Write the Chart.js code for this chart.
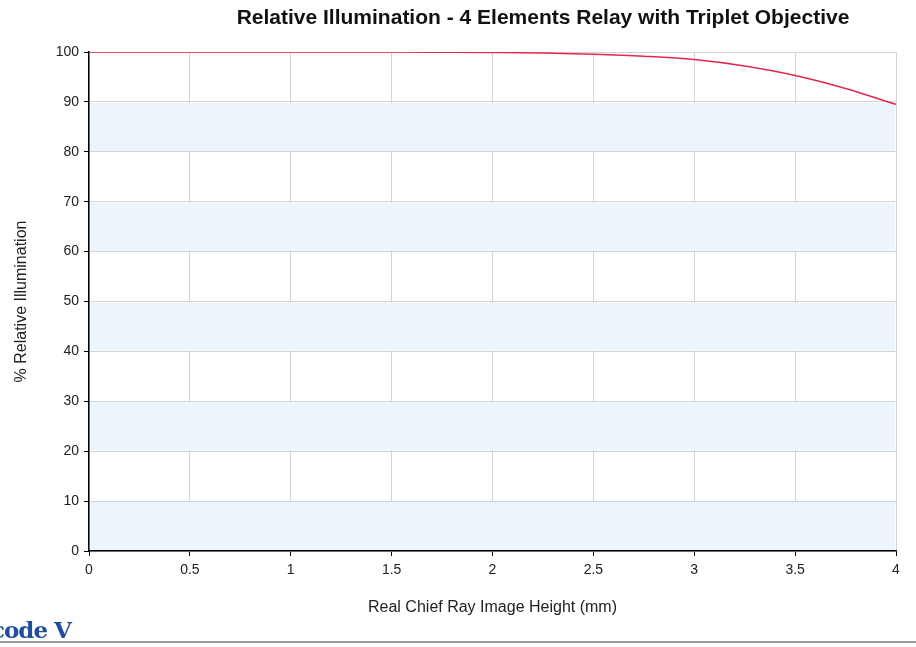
<!DOCTYPE html>
<html>
<head>
<meta charset="utf-8">
<script src="https://cdn.jsdelivr.net/npm/chart.js@4/dist/chart.umd.min.js"></script>
<style>
  body { margin: 0; background: #fff; }
  #wrap { position: relative; width: 916px; height: 647px; overflow: hidden; }
  #titulo { position: absolute; top: 5px; left: 0; width: 1086px; text-align: center;
            font: bold 21px Arial, "Liberation Sans", sans-serif; color: #111; }
  #logo { position: absolute; left: -9px; top: 616px; font: bold 23px "DejaVu Serif", serif;
          color: #1f4f9c; letter-spacing: -1px; }
  #linha { position: absolute; left: 0; top: 641px; width: 916px; height: 2px; background: #999; }
  canvas { position: absolute; left: 0; top: 0; }
</style>
</head>
<body>
<div id="wrap">
  <canvas id="grafico" width="916" height="647"></canvas>
  <div id="titulo">Relative Illumination - 4 Elements Relay with Triplet Objective</div>
  <div id="logo">code V</div>
  <div id="linha"></div>
</div>
<script>
// dados
const alturas = [0, 0.25, 0.5, 0.75, 1, 1.25, 1.5, 1.75, 2, 2.25, 2.5, 2.75, 3, 3.25, 3.5, 3.75, 4];
const iluminacao = [100, 100, 100, 100, 100, 99.99, 99.98, 99.95, 99.9, 99.8, 99.55, 99.15, 98.5, 97.2, 95.3, 92.7, 89.5];
const faixas = [[0, 10], [20, 30], [40, 50], [60, 70], [80, 90]];

// faixas azuis alternadas no fundo
const pluginFaixas = {
    id: 'faixas',
    beforeDatasetsDraw(chart) {
        const { ctx, chartArea, scales } = chart;
        ctx.save();
        ctx.fillStyle = '#edf5fc';
        faixas.forEach(f => {
            const y1 = scales.y.getPixelForValue(f[1]);
            const y0 = scales.y.getPixelForValue(f[0]);
            ctx.fillRect(chartArea.left + 1, y1 + 1, chartArea.right - chartArea.left - 2, y0 - y1 - 2);
        });
        ctx.restore();
    }
};

const pontos = alturas.map((x, i) => ({ x: x, y: iluminacao[i] }));

const ctx = document.getElementById('grafico').getContext('2d');
new Chart(ctx, {
    type: 'line',
    data: {
        datasets: [{
            data: pontos,
            borderColor: '#e3284c',
            borderWidth: 1.5,
            pointRadius: 0,
            tension: 0.4,
            cubicInterpolationMode: 'monotone'
        }]
    },
    options: {
        responsive: false,
        animation: false,
        layout: { padding: { top: 52, right: 20, bottom: 30, left: 0 } },
        plugins: { legend: { display: false }, tooltip: { enabled: false } },
        scales: {
            x: {
                type: 'linear',
                min: 0, max: 4,
                ticks: { stepSize: 0.5, color: '#222', font: { family: 'Arial', size: 14 }, padding: 6,
                         callback: v => String(v) },
                grid: { color: '#d4d4d4', tickColor: '#000', tickLength: 5 },
                border: { color: '#000', width: 1.5 },
                title: { display: true, text: 'Real Chief Ray Image Height (mm)', color: '#222',
                         font: { family: 'Arial', size: 16 }, padding: { top: 5, bottom: 0 } },
                afterFit: s => { s.height = 66; }
            },
            y: {
                min: 0, max: 100,
                ticks: { stepSize: 10, color: '#222', font: { family: 'Arial', size: 14 }, padding: 5 },
                grid: { color: '#d4d4d4', tickColor: '#000', tickLength: 5 },
                border: { color: '#000', width: 1.5 },
                title: { display: true, text: '% Relative Illumination', color: '#222',
                         font: { family: 'Arial', size: 16 }, padding: { top: 12, bottom: 0 } },
                afterFit: s => { s.width = 89; }
            }
        }
    },
    plugins: [pluginFaixas]
});
</script>
</body>
</html>
